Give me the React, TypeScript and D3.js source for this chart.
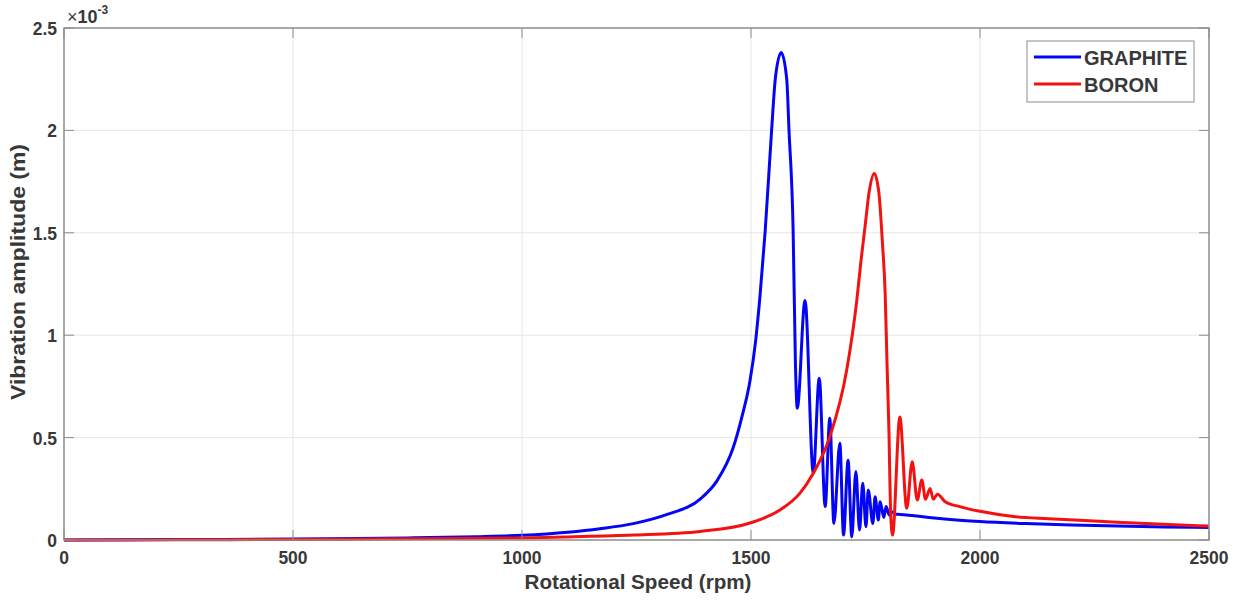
import React from "react";
import * as d3 from "d3";

// amplitudes are in units of 1e-3 m
const graphiteRpm = [0, 250, 500, 750, 900, 1000, 1100, 1170, 1243, 1317, 1389, 1426, 1461, 1480, 1498, 1510, 1520, 1531, 1545, 1553, 1566, 1578, 1583, 1592, 1597, 1601, 1618, 1636, 1649, 1662, 1672, 1681, 1694, 1702, 1712, 1720, 1729, 1737, 1744, 1751, 1756, 1766, 1771, 1778, 1782, 1790, 1795, 1802, 1807, 1815, 1825, 1900, 2000, 2100, 2200, 2300, 2400, 2500];
const graphiteAmp = [0, 0.002, 0.005, 0.01, 0.016, 0.023, 0.038, 0.055, 0.08, 0.125, 0.2, 0.29, 0.45, 0.6, 0.78, 0.97, 1.2, 1.51, 2.0, 2.25, 2.38, 2.25, 2.0, 1.51, 0.864, 0.643, 1.17, 0.326, 0.79, 0.163, 0.594, 0.081, 0.472, 0.024, 0.39, 0.016, 0.334, 0.049, 0.277, 0.065, 0.244, 0.081, 0.211, 0.098, 0.187, 0.11, 0.163, 0.122, 0.138, 0.126, 0.125, 0.108, 0.09, 0.08, 0.073, 0.068, 0.064, 0.061];

const boronRpm = [0, 250, 500, 750, 1000, 1100, 1243, 1389, 1498, 1563, 1607, 1636, 1672, 1709, 1731, 1740, 1749, 1758, 1769, 1779, 1787, 1793, 1797, 1801, 1805, 1809, 1825, 1840, 1852, 1863, 1873, 1881, 1891, 1898, 1907, 1924, 1956, 2000, 2073, 2150, 2218, 2300, 2400, 2500];
const boronAmp = [0, 0.001, 0.003, 0.006, 0.01, 0.015, 0.024, 0.042, 0.083, 0.146, 0.229, 0.326, 0.503, 0.83, 1.17, 1.36, 1.53, 1.7, 1.79, 1.7, 1.45, 1.2, 0.86, 0.55, 0.13, 0.024, 0.6, 0.155, 0.382, 0.195, 0.293, 0.199, 0.252, 0.199, 0.223, 0.187, 0.163, 0.14, 0.115, 0.104, 0.096, 0.087, 0.077, 0.068];

const xTicks = [0, 500, 1000, 1500, 2000, 2500];
const yTicks = [0, 0.5, 1, 1.5, 2, 2.5];
const yTickLabels = ["0", "0.5", "1", "1.5", "2", "2.5"];

const seriesNames = ["GRAPHITE", "BORON"];
const seriesColors = ["#0505f5", "#f21212"];

const W = 1238;
const H = 602;
const margin = { left: 64, right: 29, top: 28, bottom: 62 };

export default function App() {
  const x = d3.scaleLinear().domain([0, 2500]).range([margin.left, W - margin.right]);
  const y = d3.scaleLinear().domain([0, 2.5]).range([H - margin.bottom, margin.top]);
  const x0 = x.range()[0], x1 = x.range()[1];
  const y0 = y.range()[0], y1 = y.range()[1];

  const line = d3
    .line<[number, number]>()
    .x(d => x(d[0]))
    .y(d => y(d[1]))
    .curve(d3.curveMonotoneX);

  const series = [
    d3.zip(graphiteRpm, graphiteAmp) as [number, number][],
    d3.zip(boronRpm, boronAmp) as [number, number][]
  ];

  const font = "'Liberation Sans', Arial, sans-serif";
  const axisCol = "#8c8c8c";
  const textCol = "#383838";
  const tl = 10;

  return (
    <svg width={W} height={H} style={{ position: "absolute", left: 0, top: 0, background: "#fff" }} fontFamily={font}>
      {/* grid */}
      {xTicks.slice(1, -1).map(t => (
        <line key={"gx" + t} x1={x(t)} x2={x(t)} y1={y0} y2={y1} stroke="#e6e6e6" strokeWidth={1} />
      ))}
      {yTicks.slice(1, -1).map(t => (
        <line key={"gy" + t} x1={x0} x2={x1} y1={y(t)} y2={y(t)} stroke="#e6e6e6" strokeWidth={1} />
      ))}

      {/* curves */}
      {series.map((s, i) => (
        <path key={i} d={line(s) || ""} fill="none" stroke={seriesColors[i]} strokeWidth={3} strokeLinejoin="round" />
      ))}

      {/* box + ticks */}
      <rect x={x0} y={y1} width={x1 - x0} height={y0 - y1} fill="none" stroke={axisCol} strokeWidth={1.5} />
      {xTicks.map(t => (
        <g key={"tx" + t}>
          <line x1={x(t)} x2={x(t)} y1={y0} y2={y0 - tl} stroke={axisCol} />
          <line x1={x(t)} x2={x(t)} y1={y1} y2={y1 + tl} stroke={axisCol} />
          <text x={x(t)} y={y0 + 24} textAnchor="middle" fontSize={17.5} fontWeight="bold" fill={textCol}>
            {t}
          </text>
        </g>
      ))}
      {yTicks.map((t, i) => (
        <g key={"ty" + t}>
          <line x1={x0} x2={x0 + tl} y1={y(t)} y2={y(t)} stroke={axisCol} />
          <line x1={x1} x2={x1 - tl} y1={y(t)} y2={y(t)} stroke={axisCol} />
          <text x={x0 - 7} y={y(t) + 7} textAnchor="end" fontSize={17.5} fontWeight="bold" fill={textCol}>
            {yTickLabels[i]}
          </text>
        </g>
      ))}

      {/* exponent */}
      <text x={x0 + 3} y={y1 - 5} fontSize={18} fill={textCol}>
        <tspan>×</tspan>
        <tspan fontWeight="bold">10</tspan>
        <tspan dy={-9} fontSize={12} fontWeight="bold">-3</tspan>
      </text>

      {/* axis labels */}
      <text x={638} y={589} textAnchor="middle" fontSize={20} fontWeight="bold" fill={textCol} textLength={227} lengthAdjust="spacingAndGlyphs">
        Rotational Speed (rpm)
      </text>
      <text transform={`translate(25, 272) rotate(-90)`} textAnchor="middle" fontSize={20} fontWeight="bold" fill={textCol} textLength={256} lengthAdjust="spacingAndGlyphs">
        Vibration amplitude (m)
      </text>

      {/* legend */}
      <g transform="translate(1027, 41)">
        <rect x={0} y={0} width={167} height={61} fill="#fff" stroke={axisCol} strokeWidth={1} />
        {seriesNames.map((n, i) => (
          <g key={n} transform={`translate(0, ${16 + i * 27})`}>
            <line x1={7} x2={54} y1={0} y2={0} stroke={seriesColors[i]} strokeWidth={3} />
            <text x={57} y={8} fontSize={20} fontWeight="bold" fill={textCol}>
              {n}
            </text>
          </g>
        ))}
      </g>
    </svg>
  );
}
